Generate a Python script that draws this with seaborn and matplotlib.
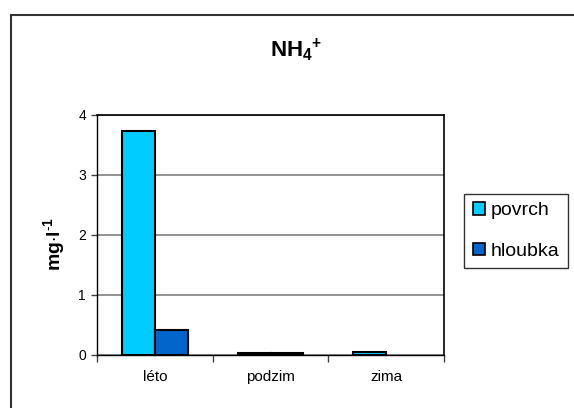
import matplotlib
matplotlib.use("Agg")
import matplotlib.pyplot as plt
import seaborn as sns
import pandas as pd
from matplotlib.patches import Rectangle, Patch

seasons = ["léto", "podzim", "zima"]
povrch = [3.73, 0.03, 0.05]
hloubka = [0.42, 0.03, 0.0]
series_names = ["povrch", "hloubka"]
colors = ["#00CCFF", "#0066CC"]

df = pd.DataFrame({
    "season": seasons * 2,
    "value": povrch + hloubka,
    "series": [series_names[0]] * 3 + [series_names[1]] * 3,
})

sns.set_theme(style="white")
plt.rcParams["font.family"] = ["Liberation Sans", "DejaVu Sans"]
plt.rcParams["mathtext.fontset"] = "custom"
plt.rcParams["mathtext.rm"] = "Liberation Sans"
plt.rcParams["mathtext.bf"] = "Liberation Sans:bold"
plt.rcParams["text.color"] = "black"
plt.rcParams["xtick.color"] = "black"
plt.rcParams["ytick.color"] = "black"

W, H = 574, 408
fig = plt.figure(figsize=(W / 100, H / 100), dpi=100)
ax = fig.add_axes([97 / W, 1 - 355 / H, (444 - 97) / W, (355 - 115) / H])

sns.barplot(data=df, x="season", y="value", hue="series", palette=colors,
            width=0.57, edgecolor="black", linewidth=1.5, ax=ax, legend=False,
            saturation=1)
# empty bars leave no outline on the baseline
for bar in ax.patches:
    if bar.get_height() == 0:
        bar.set_visible(False)

ax.set_xlim(-0.5, 2.5)
ax.set_ylim(0, 4)
ax.set_yticks([0, 1, 2, 3, 4])
ax.set_yticklabels(["0", "1", "2", "3", "4"], fontsize=10)
ax.yaxis.grid(True, color="#808080", linewidth=1.2)
ax.set_axisbelow(True)
ax.set_xticks([0, 1, 2])
ax.set_xticklabels(seasons, fontsize=11)
ax.set_xticks([-0.5, 0.5, 1.5, 2.5], minor=True)
ax.tick_params(axis="x", which="major", length=0, pad=11)
ax.tick_params(axis="x", which="minor", length=5, width=1, color="#404040", direction="out", bottom=True)
ax.tick_params(axis="y", length=4, width=1, color="#404040", direction="out", left=True, pad=4)
ax.set_xlabel("")
ax.set_ylabel("")
for side in ["top", "right"]:
    ax.spines[side].set_color("#000000")
    ax.spines[side].set_linewidth(1.2)
for side in ["left", "bottom"]:
    ax.spines[side].set_color("#000000")
    ax.spines[side].set_linewidth(1.0)

fig.text(296 / W, 1 - 50 / H, r"$\mathbf{NH_4}{}^{\mathbf{+}}$", ha="center", va="center", fontsize=16)
fig.text(55 / W, 1 - 244 / H, r"$\mathbf{mg{\cdot}l}^{\mathbf{\text{-}1}}$", ha="center", va="center",
         rotation=90, fontsize=14)

handles = [Patch(facecolor=c, edgecolor="black", linewidth=1.2, label=n)
           for c, n in zip(colors, series_names)]
leg = fig.legend(handles=handles, loc="center", bbox_to_anchor=(516 / W, 1 - 231 / H),
                 frameon=True, fancybox=False, edgecolor="#000000", fontsize=14,
                 handlelength=0.6, handleheight=0.6, handletextpad=0.3,
                 labelspacing=1.2, borderpad=0.45, borderaxespad=0)
leg.get_frame().set_linewidth(1.0)

fig.add_artist(Rectangle((11 / W, -0.05), 1.05, 1 - 15 / H + 0.05,
                         transform=fig.transFigure, fill=False,
                         edgecolor="#333333", linewidth=1.5))

fig.savefig("out.png", dpi=100)
